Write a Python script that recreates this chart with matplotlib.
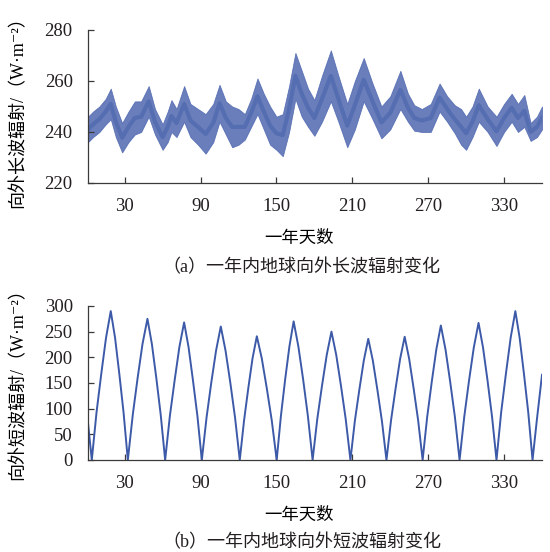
import matplotlib
matplotlib.use("Agg")
import matplotlib.pyplot as plt

# ---- data ----
# (a) outgoing longwave: band envelope (W/m2) at key days
lw_days = [1, 5, 10, 15, 19, 23, 28, 33, 38, 43, 49, 54, 60, 64, 67, 71, 77, 82,
           88, 94, 100, 105, 110, 115, 120, 125, 130, 135, 140, 145, 150, 155,
           160, 165, 170, 175, 180, 186, 193, 199, 206, 212, 219, 226, 233, 240,
           248, 254, 259, 265, 272, 279, 285, 291, 296, 300, 305, 310, 317, 324,
           330, 336, 341, 346, 351, 356, 360]
lw_upper = [246, 248, 250, 253, 257, 250, 243.5, 248, 252, 252, 258, 249, 243,
            248, 252.5, 249, 258, 251, 249, 247, 251, 258.5, 252, 250, 249, 247,
            253, 261, 255, 250, 246, 247, 258, 271, 264, 257, 252.5, 262, 272,
            262, 251, 260, 269, 259, 250, 254, 264, 255, 250.5, 249, 251, 259,
            254, 250.5, 249, 246, 250, 257, 250, 246, 251, 255, 251, 254.5,
            243.5, 246, 250]
lw_lower = [236, 238, 240, 243, 245, 238, 232, 236, 239, 240, 246, 239, 233,
            236, 240, 238, 244, 238, 235, 231.5, 236, 244, 239, 234, 235, 237,
            242, 247, 241, 235, 233, 230.5, 240, 253, 246, 242, 238.5, 244, 252,
            244, 234, 241, 252, 245, 237.5, 241, 249, 244, 240.5, 240, 240, 248,
            244, 239.5, 235, 233, 238, 244, 240, 234.5, 240, 244, 240, 242,
            236.5, 238, 241]

# (b) outgoing shortwave (W/m2) at key days
sw_days = [1, 4,
           7.75, 11.5, 15.25, 19, 22.4, 25.75, 29.1, 32.5,
           36.4, 40.25, 44.1, 48, 51.5, 55, 58.5, 62,
           65.75, 69.5, 73.25, 77, 80.5, 84, 87.5, 91,
           94.75, 98.5, 102.25, 106, 109.75, 113.5, 117.25, 121,
           124.4, 127.75, 131.1, 134.5, 138.4, 142.35, 146.3, 150.2,
           153.55, 156.9, 160.25, 163.6, 167.35, 171.1, 174.85, 178.6,
           182.3, 186.05, 189.8, 193.5, 197.25, 201, 204.75, 208.5,
           212, 215.55, 219.1, 222.6, 226.2, 229.8, 233.4, 237,
           240.6, 244.2, 247.8, 251.4, 254.95, 258.5, 262.05, 265.6,
           269.2, 272.8, 276.4, 280, 283.7, 287.4, 291.1, 294.8,
           298.55, 302.3, 306.05, 309.8, 313.35, 316.9, 320.45, 324,
           327.7, 331.45, 335.2, 338.9, 342.3, 345.7, 349.1, 352.5,
           356, 360]
sw_vals = [72, 0,
           93, 168, 238, 290, 238, 168, 93, 0,
           88, 160, 226, 275, 226, 160, 88, 0,
           86, 155, 220, 268, 220, 155, 86, 0,
           83, 151, 213, 260, 213, 151, 83, 0,
           77, 140, 198, 241, 198, 140, 77, 0,
           86, 157, 221, 270, 221, 157, 86, 0,
           80, 145, 205, 250, 205, 145, 80, 0,
           76, 137, 194, 236, 194, 137, 76, 0,
           77, 139, 197, 240, 197, 139, 77, 0,
           84, 152, 215, 262, 215, 152, 84, 0,
           85, 155, 219, 267, 219, 155, 85, 0,
           93, 168, 238, 290, 238, 168, 93, 0,
           80, 166]

x_ticks = [30, 90, 150, 210, 270, 330]
lw_yticks = [220, 240, 260, 280]
sw_yticks = [0, 50, 100, 150, 200, 250, 300]

# serif for latin/digits, CJK font for the Chinese glyphs
FONT = ["Liberation Serif", "Noto Sans CJK SC", "DejaVu Sans"]

plt.rcParams.update({
    "font.family": FONT,
    "axes.spines.top": False,
    "axes.spines.right": False,
    "axes.edgecolor": "#3a3a3a",
    "axes.linewidth": 0.9,
    "text.color": "#231f20",
    "xtick.color": "#3a3a3a",
    "ytick.color": "#3a3a3a",
    "xtick.labelcolor": "#231f20",
    "ytick.labelcolor": "#231f20",
    "xtick.direction": "in",
    "ytick.direction": "in",
})

band_col = "#4f67b0"
core_col = "#2a4a9a"
line_col = "#3d5aa8"

fig = plt.figure(figsize=(5.5, 5.52), dpi=100)
ax1 = fig.add_axes([0.16, 0.6685, 0.8255, 0.2772])
ax2 = fig.add_axes([0.16, 0.1667, 0.8255, 0.279])

# (a) longwave band
ax1.fill_between(lw_days, lw_lower, lw_upper, color=band_col, alpha=0.85,
                 linewidth=0.6, edgecolor=band_col)
lw_mid = [(a + b) / 2 for a, b in zip(lw_lower, lw_upper)]
ax1.plot(lw_days, lw_mid, color=core_col, linewidth=3.0, alpha=0.3)
ax1.set_ylim(220, 280)
ax1.set_yticks(lw_yticks)

# (b) shortwave
ax2.plot(sw_days, sw_vals, color=line_col, linewidth=1.4)
ax2.set_ylim(0, 300)
ax2.set_yticks(sw_yticks)

for ax in (ax1, ax2):
    ax.set_xlim(1, 360)
    ax.set_xticks(x_ticks)
    ax.tick_params(axis="both", labelsize=13.5, length=4, width=0.9, pad=11,
                   labelfontfamily=FONT)
    ax.set_xlabel("一年天数", fontsize=12.5, family=FONT)
    ax.xaxis.set_label_coords(0.465, -0.31)

ax1.set_ylabel("向外长波辐射/（W·m⁻²）", fontsize=13, family=FONT)
ax2.set_ylabel("向外短波辐射/（W·m⁻²）", fontsize=13, family=FONT)
ax1.yaxis.set_label_coords(-0.135, 0.49)
ax2.yaxis.set_label_coords(-0.135, 0.52)

fig.text(301 / 550, 1 - 268 / 552, "（a）一年内地球向外长波辐射变化",
         ha="center", va="center", fontsize=13, family=FONT)
fig.text(302 / 550, 1 - 543 / 552, "（b）一年内地球向外短波辐射变化",
         ha="center", va="center", fontsize=13, family=FONT)

fig.savefig("out.png", dpi=100)
